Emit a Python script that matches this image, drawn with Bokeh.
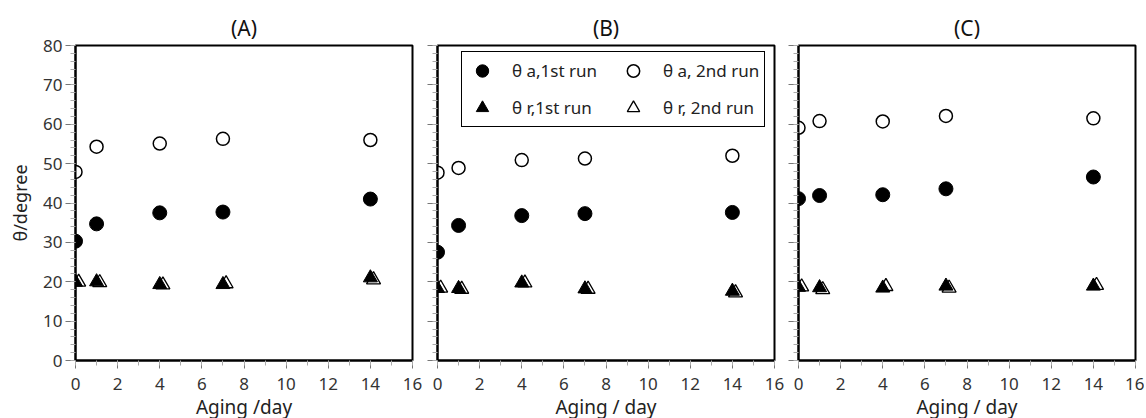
from bokeh.plotting import figure
from bokeh.layouts import row
from bokeh.models import Range1d, SingleIntervalTicker, Legend, LegendItem, ColumnDataSource
from bokeh.transform import dodge
from bokeh.embed import file_html
from bokeh.resources import INLINE

FONT = "Noto Sans"

days = [0, 1, 4, 7, 14]
titles = ["(A)", "(B)", "(C)"]
x_titles = ["Aging /day", "Aging / day", "Aging / day"]
y_title = "θ/degree"
legend_labels = ["θ a,1st run", "θ a, 2nd run", "θ r,1st run", "θ r, 2nd run"]

# advancing contact angle, 1st and 2nd run
a1_A = [30.3, 34.7, 37.5, 37.7, 41.0]
a2_A = [47.9, 54.3, 55.1, 56.3, 56.0]
a1_B = [27.5, 34.3, 36.8, 37.3, 37.6]
a2_B = [47.7, 48.9, 50.9, 51.3, 52.0]
a1_C = [41.1, 41.9, 42.1, 43.6, 46.6]
a2_C = [59.1, 60.8, 60.7, 62.1, 61.5]
# receding contact angle, 1st and 2nd run
r1_A = [19.9, 20.0, 19.3, 19.3, 21.0]
r2_A = [19.9, 19.8, 19.2, 19.5, 20.5]
r1_B = [18.3, 18.3, 19.7, 18.2, 17.6]
r2_B = [18.4, 18.1, 19.7, 18.1, 17.2]
r1_C = [18.6, 18.5, 18.4, 18.9, 18.9]
r2_C = [18.7, 18.0, 18.8, 18.4, 19.1]

panel_data = [
    (a1_A, a2_A, r1_A, r2_A),
    (a1_B, a2_B, r1_B, r2_B),
    (a1_C, a2_C, r1_C, r2_C),
]

# borders per panel: (left, right, top, bottom)
borders = [
    (75, 10, 43, 55),
    (15, 12, 45, 53),
    (12, 9, 43, 55),
]

figs = []
for i in range(3):
    a1, a2, r1, r2 = panel_data[i]
    bl, br, bt, bb = borders[i]
    p = figure(frame_width=337, frame_height=315,
               x_range=Range1d(0, 16), y_range=Range1d(0, 80),
               output_backend="svg", toolbar_location=None,
               min_border_left=bl, min_border_right=br, min_border_top=bt, min_border_bottom=bb,
               title=titles[i])
    p.title.align = "center"
    p.title.text_font = FONT
    p.title.text_font_size = "21px"
    p.title.text_font_style = "normal"
    p.title.text_color = "#111111"
    p.title.standoff = 8
    p.xgrid.visible = False
    p.ygrid.visible = False
    p.outline_line_color = "black"
    p.outline_line_width = 2
    p.outline_line_alpha = 1

    p.xaxis.ticker = SingleIntervalTicker(interval=2, num_minor_ticks=2)
    p.yaxis.ticker = SingleIntervalTicker(interval=10, num_minor_ticks=5)
    for ax in (p.xaxis, p.yaxis):
        ax.axis_line_color = "black"
        ax.axis_line_width = 2
        ax.major_tick_line_color = "#777777"
        ax.minor_tick_line_color = "#aaaaaa"
        ax.major_tick_in = 0
        ax.minor_tick_in = 0
        ax.major_label_text_font = FONT
        ax.major_label_text_font_size = "17px"
        ax.major_label_text_color = "#333333"
        ax.axis_label_text_font = FONT
        ax.axis_label_text_font_style = "normal"
        ax.axis_label_text_font_size = "19px"
        ax.axis_label_text_color = "#222222"
    p.xaxis.major_tick_out = 8
    p.xaxis.minor_tick_out = 5
    p.yaxis.major_tick_out = 10
    p.yaxis.minor_tick_out = 5
    p.xaxis.major_label_standoff = 9
    p.xaxis.axis_label = x_titles[i]
    p.xaxis.axis_label_standoff = 1
    p.yaxis.major_label_standoff = 3
    if i == 0:
        p.yaxis.axis_label = y_title
        p.yaxis.axis_label_text_font_size = "18px"
        p.yaxis.axis_label_standoff = 8
    else:
        p.yaxis.major_label_overrides = {v: "" for v in range(0, 81, 10)}

    src = ColumnDataSource(dict(day=days, a1=a1, a2=a2, r1=r1, r2=r2))
    ra2 = p.scatter("day", "a2", source=src, marker="circle", size=13,
                    fill_color="white", line_color="black", line_width=1.5)
    ra1 = p.scatter("day", "a1", source=src, marker="circle", size=14,
                    fill_color="black", line_color="black", line_width=1)
    rr2 = p.scatter(dodge("day", 0.15, range=p.x_range), "r2", source=src, marker="triangle", size=14,
                    fill_color="white", line_color="black", line_width=1.3)
    rr1 = p.scatter("day", "r1", source=src, marker="triangle", size=14,
                    fill_color="black", line_color="black", line_width=1)

    if i == 1:
        legend = Legend(items=[
            LegendItem(label=legend_labels[0], renderers=[ra1]),
            LegendItem(label=legend_labels[2], renderers=[rr1]),
            LegendItem(label=legend_labels[1], renderers=[ra2]),
            LegendItem(label=legend_labels[3], renderers=[rr2]),
        ], location=(24, 233), orientation="vertical", ncols=2)
        legend.border_line_color = "black"
        legend.border_line_width = 1.5
        legend.border_line_alpha = 1
        legend.background_fill_color = "white"
        legend.background_fill_alpha = 1
        legend.label_text_font = FONT
        legend.label_text_font_size = "17px"
        legend.label_text_color = "#222222"
        legend.padding = 3
        legend.spacing = 6
        legend.glyph_width = 34
        legend.glyph_height = 31
        legend.label_standoff = 13
        legend.label_width = 98
        legend.label_height = 31
        legend.margin = 0
        p.add_layout(legend)
    figs.append(p)

layout = row(*figs)
open("out.html", "w").write(file_html(layout, INLINE))
